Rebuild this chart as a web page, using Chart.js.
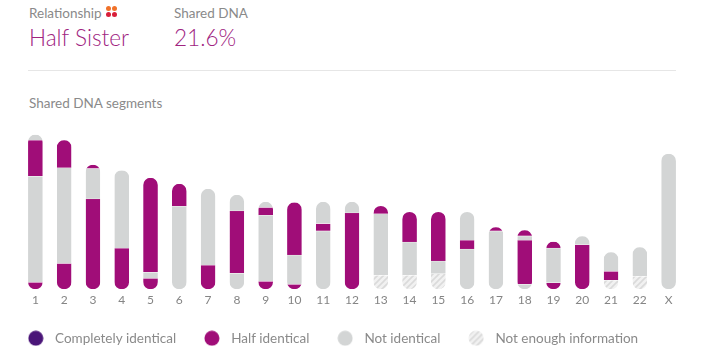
<!DOCTYPE html>
<html>
<head>
<meta charset="utf-8">
<title>Shared DNA segments</title>
<script src="https://cdn.jsdelivr.net/npm/chart.js@4"></script>
<style>
    html, body { margin: 0; padding: 0; background: #fff; overflow: hidden; }
    body { width: 701px; height: 363px; position: relative; font-family: Lato, sans-serif; font-weight: 300; }
    .abs { position: absolute; white-space: nowrap; }
    .label { font-size: 13.5px; line-height: 16px; color: #8a8a8a; font-weight: 400; }
    .value { font-size: 22.6px; line-height: 28px; color: #a0247f; }
    .dot { position: absolute; width: 5px; height: 5px; border-radius: 50%; }
    #rule { position: absolute; left: 28px; top: 70px; width: 648px; height: 1px; background: #e6e6e6; }
    #segments { position: absolute; left: 0; top: 125px; }
</style>
</head>
<body>
<div class="abs label" style="left:29px;top:5px">Relationship</div>
<span class="dot" style="left:106px;top:6px;background:#f0722a"></span>
<span class="dot" style="left:112px;top:6px;background:#f0722a"></span>
<span class="dot" style="left:106px;top:12px;background:#d81f3a"></span>
<span class="dot" style="left:112px;top:12px;background:#d81f3a"></span>
<div class="abs label" style="left:174px;top:5px">Shared DNA</div>
<div class="abs value" style="left:29px;top:24px">Half Sister</div>
<div class="abs value" style="left:174px;top:24px">21.6%</div>
<div id="rule"></div>
<div class="abs label" style="left:29px;top:95px">Shared DNA segments</div>
<canvas id="segments" width="701" height="238"></canvas>

<script>
const chromosomes = ["1", "2", "3", "4", "5", "6", "7", "8", "9", "10", "11", "12", "13", "14", "15", "16", "17", "18", "19", "20", "21", "22", "X"];

const lengths = [154, 148.5, 124, 118.5, 111, 105, 100, 94, 87, 86.5, 87, 87, 83, 77, 77, 77, 62, 59, 47.5, 53, 37, 42, 135];

const halfUpper = [[112.5, 148.5], [120.8, 148.5], [120, 124], null, [17, 111], [82.5, 105], null, [16, 78], [73.5, 81.5], [34, 86.5], [58, 65.5], null, [75, 83], [47, 77], [28, 77], [40, 49], [58, 62], [53, 59], [41, 47.5], null, [9, 18], null, null];
const halfLower = [[0, 7], [0, 25.8], [0, 90], [0, 41], [0, 11], null, [0, 24], null, [0, 8], [0, 5], null, [0, 76], null, null, null, null, null, [5, 49], [0, 6.5], [0, 44.5], null, null, null];

const notUpper = [[148.5, 154], null, null, [41, 118.5], null, null, [24, 100], [78, 94], [81.5, 87], null, [65.5, 87], [76, 87], null, null, null, [49, 77], null, [49, 53], null, [44.5, 53], [18, 37], [13, 42], [0, 135]];
const notLower = [[7, 112.5], [25.8, 120.8], [90, 120], null, [11, 17], [0, 82.5], null, [0, 16], [8, 73.5], [5, 34], [0, 58], null, [14, 75], [14, 47], [15.5, 28], [0, 40], [0, 58], [0, 5], [6.5, 41], null, null, null, null];

const notEnough = [null, null, null, null, null, null, null, null, null, null, null, null, [0, 14], [0, 14], [0, 15.5], null, null, null, null, null, [0, 9], [0, 13], null];

const legendNames = ["Completely identical", "Half identical", "Not identical", "Not enough information"];

const PURPLE = "#4a1578";
const MAGENTA = "#a00d78";
const GREY = "#d3d5d5";
const BAR_WIDTH = 14.7;

function hatchPattern() {
    const tile = document.createElement("canvas");
    tile.width = 6;
    tile.height = 6;
    const c = tile.getContext("2d");
    c.fillStyle = "#f1f1f1";
    c.fillRect(0, 0, 6, 6);
    c.strokeStyle = "#dadada";
    c.lineWidth = 1.6;
    c.beginPath();
    c.moveTo(-1, 7);
    c.lineTo(7, -1);
    c.moveTo(-1, 1);
    c.lineTo(1, -1);
    c.moveTo(5, 7);
    c.lineTo(7, 5);
    c.stroke();
    return c.createPattern(tile, "repeat");
}

const hatch = hatchPattern();

function swatch(fill) {
    const s = document.createElement("canvas");
    s.width = 16;
    s.height = 16;
    const c = s.getContext("2d");
    c.fillStyle = fill;
    c.beginPath();
    c.arc(8, 8, 7.5, 0, Math.PI * 2);
    c.fill();
    return s;
}

const swatches = [swatch(PURPLE), swatch(MAGENTA), swatch(GREY), swatch(hatch)];

function segmentSet(data, color) {
    return {
        data: data,
        backgroundColor: color,
        borderColor: "rgba(255,255,255,0.7)",
        borderWidth: { top: 0.5, bottom: 0.5, left: 0, right: 0 },
        borderSkipped: false,
        barThickness: BAR_WIDTH
    };
}

// every chromosome is a pill, so the segments get clipped to its outline
const pillClip = {
    id: "pillClip",
    beforeDatasetsDraw(chart) {
        const ctx = chart.ctx;
        const x = chart.scales.x;
        const y = chart.scales.y;
        ctx.save();
        ctx.beginPath();
        lengths.forEach((length, i) => {
            const top = y.getPixelForValue(length);
            ctx.roundRect(
                x.getPixelForTick(i) - BAR_WIDTH / 2,
                top,
                BAR_WIDTH,
                y.getPixelForValue(0) - top,
                BAR_WIDTH / 2
            );
        });
        ctx.clip();
    },
    afterDatasetsDraw(chart) {
        chart.ctx.restore();
    }
};

new Chart(document.getElementById("segments"), {
    type: "bar",
    plugins: [pillClip],
    data: {
        labels: chromosomes,
        datasets: [
            segmentSet(notUpper, GREY),
            segmentSet(notLower, GREY),
            segmentSet(notEnough, hatch),
            segmentSet(halfUpper, MAGENTA),
            segmentSet(halfLower, MAGENTA)
        ]
    },
    options: {
        responsive: false,
        animation: false,
        layout: { padding: { right: 18, top: 3.5, bottom: 8 } },
        scales: {
            x: {
                stacked: true,
                grid: { display: false, drawTicks: false },
                border: { display: false },
                ticks: {
                    color: "#858585",
                    padding: 4,
                    maxRotation: 0,
                    autoSkip: false,
                    font: { family: "Lato", size: 12 }
                },
                afterFit(scale) {
                    scale.height -= 3.5;
                }
            },
            y: {
                min: 0,
                max: 160,
                grid: { display: false },
                border: { display: false },
                ticks: { display: false },
                afterFit(scale) {
                    scale.width = 21;
                }
            }
        },
        plugins: {
            tooltip: { enabled: false },
            legend: {
                position: "bottom",
                align: "start",
                labels: {
                    usePointStyle: true,
                    pointStyleWidth: 25,
                    boxHeight: 16,
                    padding: 23.3,
                    color: "#8a8a8a",
                    font: { family: "Lato", size: 13.5 },
                    generateLabels() {
                        return legendNames.map((name, i) => ({
                            text: name,
                            pointStyle: swatches[i],
                            fontColor: "#8a8a8a",
                            lineWidth: 0,
                            strokeStyle: "transparent",
                            fillStyle: "transparent",
                            datasetIndex: i
                        }));
                    }
                }
            }
        }
    }
});
</script>
</body>
</html>
